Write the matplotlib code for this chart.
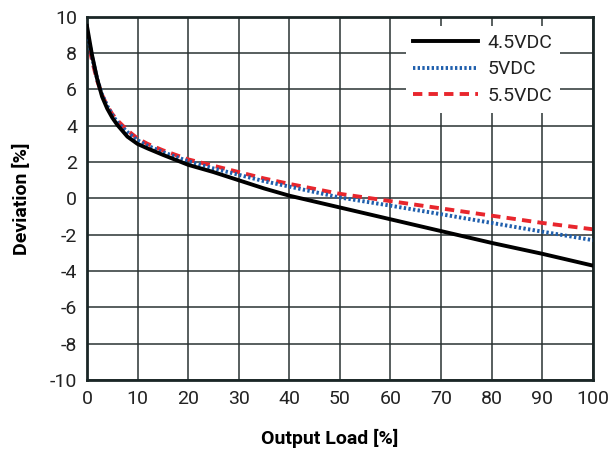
import matplotlib
matplotlib.use('Agg')
import matplotlib.pyplot as plt

plt.rcParams['font.family'] = ['Roboto', 'DejaVu Sans']
plt.rcParams['axes.unicode_minus'] = False

# output load [%]
load = [0, 1, 2, 3, 4, 5, 6, 8, 10, 12, 15, 20, 25, 30, 35, 40, 50, 60, 70, 80, 90, 100]

# deviation [%] per input voltage
dev_45 = [9.5, 7.9, 6.6, 5.6, 4.95, 4.45, 4.05, 3.4, 3.0, 2.75, 2.4, 1.85, 1.45, 1.0, 0.55, 0.15,
          -0.5, -1.15, -1.8, -2.45, -3.05, -3.7]
dev_5 = [9.3, 7.8, 6.6, 5.7, 5.1, 4.6, 4.2, 3.65, 3.2, 2.9, 2.55, 2.05, 1.65, 1.3, 0.95, 0.65,
         0.05, -0.4, -0.87, -1.35, -1.83, -2.3]
dev_55 = [9.0, 7.6, 6.5, 5.7, 5.1, 4.65, 4.3, 3.75, 3.3, 3.0, 2.65, 2.15, 1.8, 1.45, 1.1, 0.8,
          0.25, -0.15, -0.55, -0.95, -1.35, -1.7]

labels = ['4.5VDC', '5VDC', '5.5VDC']
x_ticks = list(range(0, 101, 10))
y_ticks = list(range(-10, 11, 2))

fig = plt.figure(figsize=(6.08, 4.54), dpi=100)
ax = fig.add_axes([0.143, 0.163, 0.832, 0.8])

ax.plot(load, dev_45, color='black', lw=2.8, label=labels[0], zorder=4)
ax.plot(load, dev_5, color='#1f5fad', lw=2.8, ls=(0, (0.6, 0.6)), label=labels[1], zorder=3)
ax.plot(load, dev_55, color='#e8262d', lw=2.8, ls=(0, (2.4, 1.6)), label=labels[2], zorder=2)

ax.set_xlim(0, 100)
ax.set_ylim(-10, 10)
ax.set_xticks(x_ticks)
ax.set_yticks(y_ticks)
ax.grid(True, color='#2a3333', lw=1.1)
ax.tick_params(length=0, labelsize=14, colors='#222222', pad=7)
for s in ax.spines.values():
    s.set_linewidth(2)
    s.set_color('#1a2626')

ax.set_xlabel('Output Load [%]', fontsize=14, fontweight='bold')
ax.xaxis.set_label_coords(0.48, -0.135)
ax.set_ylabel('Deviation [%]', fontsize=14, fontweight='bold')
ax.yaxis.set_label_coords(-0.11, 0.5)

leg = ax.legend(loc='upper right', bbox_to_anchor=(0.935, 0.975), fontsize=14,
                handlelength=3.3, handletextpad=0.5, frameon=True,
                framealpha=1, edgecolor='none', fancybox=False, borderaxespad=0.0,
                labelspacing=0.45)
for t in leg.get_texts():
    t.set_color('#222222')
leg.get_frame().set_facecolor('white')

fig.savefig('out.png', dpi=100)
